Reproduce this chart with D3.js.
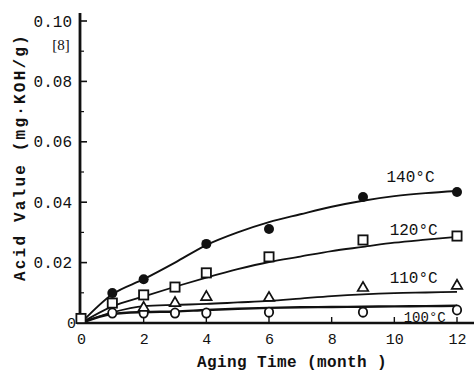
<!DOCTYPE html>
<html>
<head>
<meta charset="utf-8">
<script src="https://cdn.jsdelivr.net/npm/d3@7/dist/d3.min.js"></script>
<style>
  html, body { margin: 0; padding: 0; background: #fff; }
  svg { display: block; }
</style>
</head>
<body>
<svg id="chart" width="474" height="377"></svg>
<script>
// Measured acid value (mg KOH/g) of aged samples, by ageing temperature
const months140 = [1, 2, 4, 6, 9, 12];
const acid140   = [0.0099, 0.0145, 0.0262, 0.0311, 0.0417, 0.0434];

const months120 = [0, 1, 2, 3, 4, 6, 9, 12];
const acid120   = [0.0015, 0.0066, 0.0093, 0.0119, 0.0166, 0.0219, 0.0275, 0.0288];

const months110 = [2, 3, 4, 6, 9, 12];
const acid110   = [0.0050, 0.0066, 0.0086, 0.0083, 0.0116, 0.0123];

const months100 = [1, 2, 3, 4, 6, 9, 12];
const acid100   = [0.0033, 0.0033, 0.0033, 0.0033, 0.0036, 0.0036, 0.0043];

// Smoothed trend curves through each temperature series
const fitMonths = [0, 1, 2, 3, 4, 5, 6, 7, 8, 9, 10, 11, 12];
const fit140 = [0, 0.0095, 0.0145, 0.0200, 0.0258, 0.0300, 0.0334, 0.0360, 0.0385, 0.0405, 0.0420, 0.0430, 0.0437];
const fit120 = [0, 0.0055, 0.0088, 0.0120, 0.0150, 0.0178, 0.0202, 0.0220, 0.0238, 0.0252, 0.0266, 0.0276, 0.0285];
const fit110 = [0, 0.0035, 0.0056, 0.0060, 0.0063, 0.0068, 0.0073, 0.0081, 0.0089, 0.0095, 0.0099, 0.0101, 0.0103];
const fit100 = [0, 0.0030, 0.0036, 0.0038, 0.0043, 0.0047, 0.0050, 0.0052, 0.0053, 0.0054, 0.0055, 0.0056, 0.0057];

// Axis ticks and labels
const xTicks = [0, 2, 4, 6, 8, 10, 12];
const yTicks = [0.02, 0.04, 0.06, 0.08, 0.10];
const yTickLabels = ["0.02", "0.04", "0.06", "0.08", "0.10"];
const seriesLabels = ["140°C", "120°C", "110°C", "100°C"];
const xTitle = "Aging Time (month )";
const yTitle = "Acid Value (mg·KOH/g)";
const refNote = "[8]";

const svg = d3.select("#chart");
const ink = "#111";
const mono = "'Liberation Mono', 'DejaVu Sans Mono', monospace";

const x = d3.scaleLinear().domain([0, 12]).range([81, 457]);
const y = d3.scaleLinear().domain([0, 0.10]).range([323, 21]);

// ---- axes ----
const xAxis = d3.axisBottom(x).tickValues(xTicks).tickSize(0).tickPadding(10)
  .tickFormat(d3.format("d"));
const gx = svg.append("g").attr("transform", `translate(0,${y(0)})`).call(xAxis);
gx.select(".domain").remove();
gx.selectAll("text").attr("font-family", mono).attr("font-size", 15).attr("fill", ink);

// x axis base line, heavy
svg.append("line").attr("x1", 77).attr("x2", 474).attr("y1", y(0)).attr("y2", y(0))
  .attr("stroke", ink).attr("stroke-width", 2.6);
// inward x ticks
svg.append("g").selectAll("line").data(xTicks.filter(d => d > 0)).join("line")
  .attr("x1", d => x(d)).attr("x2", d => x(d))
  .attr("y1", y(0)).attr("y2", y(0) - 6)
  .attr("stroke", ink).attr("stroke-width", 1.4);

const yAxis = d3.axisLeft(y).tickValues(yTicks).tickSize(0).tickPadding(8)
  .tickFormat((d, i) => yTickLabels[i]);
const gy = svg.append("g").attr("transform", `translate(${x(0) - 1},0)`).call(yAxis);
gy.select(".domain").remove();
gy.selectAll("text").attr("font-family", mono).attr("font-size", 16).attr("fill", ink);

// y axis line
svg.append("line").attr("x1", x(0) - 1).attr("x2", x(0) - 1).attr("y1", 13).attr("y2", y(0) + 1)
  .attr("stroke", ink).attr("stroke-width", 2.8);
// major inward ticks
svg.append("g").selectAll("line").data(yTicks).join("line")
  .attr("x1", x(0) - 1).attr("x2", x(0) + 6)
  .attr("y1", d => y(d)).attr("y2", d => y(d))
  .attr("stroke", ink).attr("stroke-width", 1.6);
// minor ticks
svg.append("g").selectAll("line").data(d3.range(1, 10, 2).map(i => i / 100)).join("line")
  .attr("x1", x(0) - 1).attr("x2", x(0) + 3)
  .attr("y1", d => y(d)).attr("y2", d => y(d))
  .attr("stroke", ink).attr("stroke-width", 1.2);

// origin label on the y axis
svg.append("text").attr("x", x(0) - 5).attr("y", y(0) + 5)
  .attr("text-anchor", "end").attr("font-family", mono).attr("font-size", 15)
  .attr("fill", ink).text("0");

// reference mark under the top tick
svg.append("text").attr("x", 61).attr("y", 50).attr("text-anchor", "middle")
  .attr("font-family", "'Liberation Serif', serif").attr("font-size", 15)
  .attr("fill", ink).text(refNote);

// axis titles
svg.append("text").attr("x", 197).attr("y", 367)
  .attr("font-family", mono).attr("font-weight", "bold").attr("font-size", 16)
  .attr("letter-spacing", 0.4).attr("fill", ink).text(xTitle);

svg.append("text").attr("transform", "translate(25,281) rotate(-90)")
  .attr("font-family", mono).attr("font-weight", "bold").attr("font-size", 16)
  .attr("letter-spacing", 2.2).attr("fill", ink).text(yTitle);

// ---- trend curves ----
const line = d3.line().x((d, i) => x(fitMonths[i])).y(d => y(d)).curve(d3.curveMonotoneX);
const fits = [
  { v: fit140, w: 1.9 },
  { v: fit120, w: 1.8 },
  { v: fit110, w: 1.8 },
  { v: fit100, w: 2.4 }
];
svg.append("g").selectAll("path").data(fits).join("path")
  .attr("d", d => line(d.v)).attr("fill", "none")
  .attr("stroke", ink).attr("stroke-width", d => d.w);

// ---- markers ----
const pts = (ms, vs) => ms.map((m, i) => ({ m, v: vs[i] }));

// 100 °C: open circles
svg.append("g").selectAll("ellipse").data(pts(months100, acid100)).join("ellipse")
  .attr("cx", d => x(d.m)).attr("cy", d => y(d.v)).attr("rx", 4.2).attr("ry", 4.6)
  .attr("fill", "#fff").attr("stroke", ink).attr("stroke-width", 1.8);

// 110 °C: open triangles
const tri = d3.symbol().type(d3.symbolTriangle).size(48);
svg.append("g").selectAll("path").data(pts(months110, acid110)).join("path")
  .attr("transform", d => `translate(${x(d.m)},${y(d.v)})`).attr("d", tri)
  .attr("fill", "#fff").attr("stroke", ink).attr("stroke-width", 1.7);

// 120 °C: open squares
svg.append("g").selectAll("rect").data(pts(months120, acid120)).join("rect")
  .attr("x", d => x(d.m) - 4.6).attr("y", d => y(d.v) - 4.6)
  .attr("width", 9.2).attr("height", 9.2)
  .attr("fill", "#fff").attr("stroke", ink).attr("stroke-width", 1.8);

// 140 °C: filled circles
svg.append("g").selectAll("circle").data(pts(months140, acid140)).join("circle")
  .attr("cx", d => x(d.m)).attr("cy", d => y(d.v)).attr("r", 5)
  .attr("fill", ink);

// ---- series labels ----
const labelPos = [
  { m: 9.75, v: 0.0468, size: 16 },
  { m: 9.85, v: 0.0292, size: 16 },
  { m: 9.85, v: 0.0133, size: 16 },
  { m: 10.3, v: 0.0000, size: 14 }
];
svg.append("g").selectAll("text").data(seriesLabels).join("text")
  .attr("x", (d, i) => x(labelPos[i].m))
  .attr("y", (d, i) => y(labelPos[i].v) - (i === 3 ? 1 : 0))
  .attr("font-family", mono).attr("font-size", (d, i) => labelPos[i].size)
  .attr("fill", ink).text(d => d);
</script>
</body>
</html>
